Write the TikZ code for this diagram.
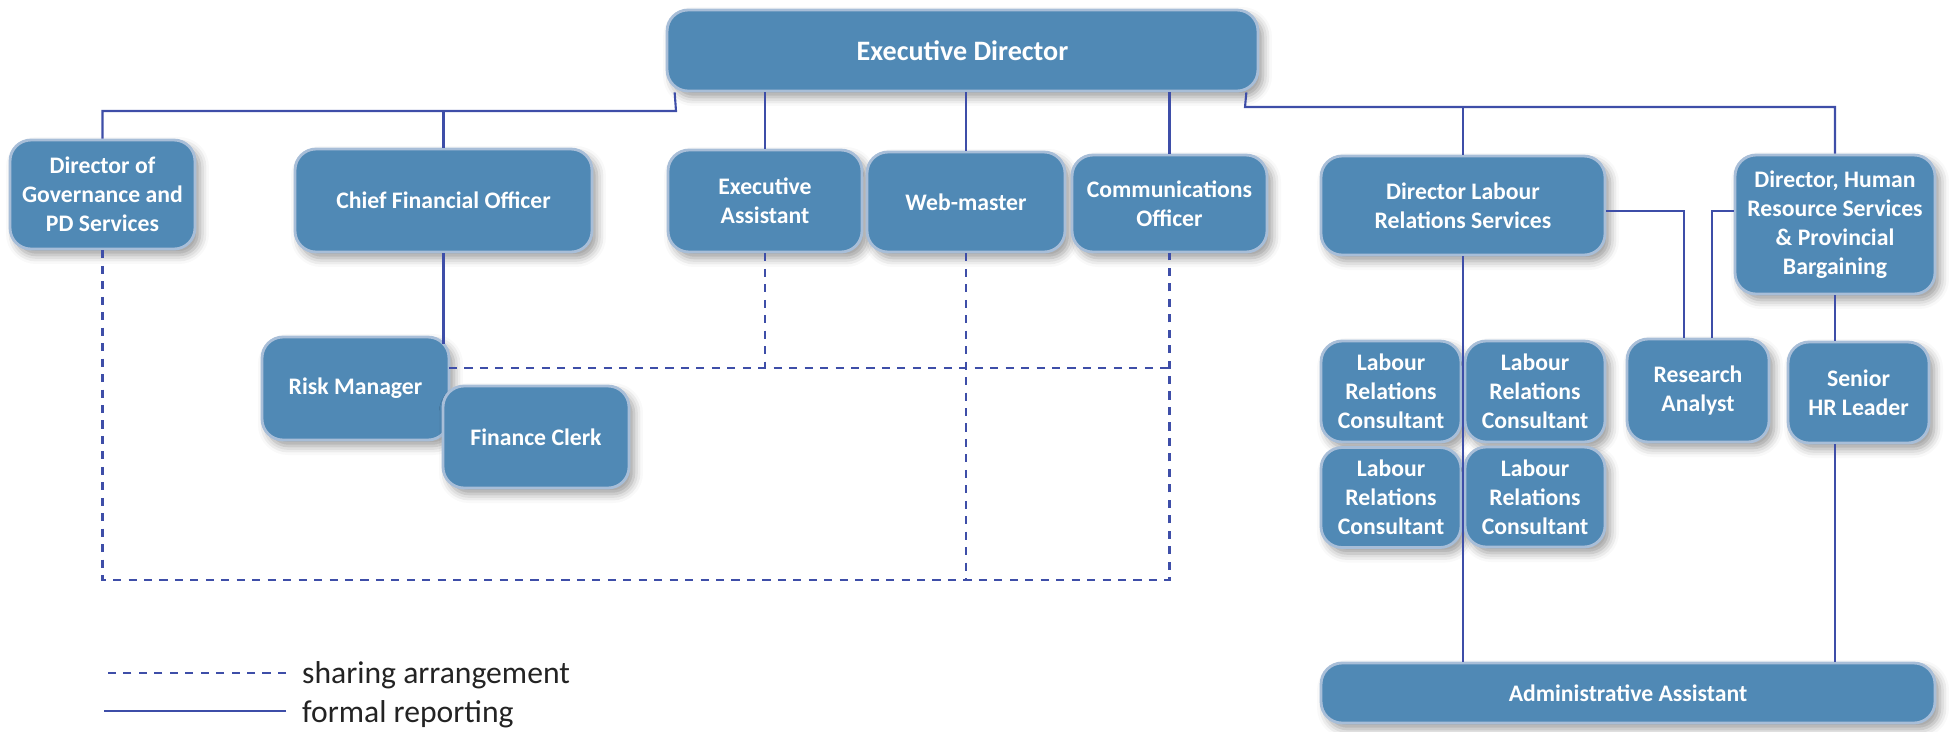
\documentclass[tikz,border=0pt]{standalone}
\usepackage{fontspec}
\setmainfont{Carlito}
\usetikzlibrary{positioning,calc,shadows.blur}
\definecolor{boxblue}{RGB}{80,137,181}
\definecolor{boxedge}{RGB}{168,190,216}
\definecolor{linkblue}{RGB}{62,78,168}
\definecolor{keygrey}{RGB}{35,35,35}

\begin{document}
\begin{tikzpicture}[x=0.02cm, y=-0.02cm,
    box/.style={rectangle, rounded corners=0.42cm, draw=boxedge, line width=1.6pt, fill=boxblue, text=white, align=center, inner sep=2pt, font=\bfseries\fontsize{13.5}{16.5}\selectfont, blur shadow={shadow xshift=0.1cm, shadow yshift=-0.12cm, shadow blur radius=0.18cm, shadow opacity=40}},
    formal/.style={draw=linkblue, line width=1.2pt},
    sharing/.style={formal, dash pattern=on 4.6pt off 4.2pt},
    keytext/.style={text=keygrey, font=\fontsize{18}{21}\selectfont, anchor=west}
]
\useasboundingbox (0,0) rectangle (1949,731);

\node[box, minimum width=11.82cm, minimum height=1.62cm, font=\bfseries\fontsize{16}{18}\selectfont] (ed) at (962.5,50.5) {Executive Director};
\node[box, minimum width=3.7cm, minimum height=2.18cm] (gov) at (102.5,194.5) {Director of\\Governance and\\PD Services};
\node[box, minimum width=5.94cm, minimum height=2.06cm] (cfo) at (443.5,200.5) {Chief Financial Officer};
\node[box, minimum width=3.88cm, minimum height=2.04cm] (ea) at (765,201) {Executive\\Assistant};
\node[box, minimum width=3.96cm, minimum height=2cm] (web) at (966,202) {Web-master};
\node[box, minimum width=3.9cm, minimum height=1.94cm] (comm) at (1169.5,203.5) {Communications\\Officer};
\node[box, minimum width=5.68cm, minimum height=1.98cm] (dlrs) at (1463,205.5) {Director Labour\\Relations Services};
\node[box, minimum width=4cm, minimum height=2.78cm] (hrd) at (1835,224.5) {Director, Human\\Resource Services\\\& Provincial\\Bargaining};
\node[box, minimum width=3.74cm, minimum height=2.06cm] (rm) at (355.5,388.5) {Risk Manager};
\node[box, minimum width=3.72cm, minimum height=2.04cm] (fc) at (536,437) {Finance Clerk};
\node[box, minimum width=2.8cm, minimum height=2.02cm] (lrc1) at (1391,391.5) {Labour\\Relations\\Consultant};
\node[box, minimum width=2.8cm, minimum height=2.02cm] (lrc2) at (1535,391.5) {Labour\\Relations\\Consultant};
\node[box, minimum width=2.8cm, minimum height=2cm] (lrc3) at (1391,497.5) {Labour\\Relations\\Consultant};
\node[box, minimum width=2.8cm, minimum height=2cm] (lrc4) at (1535,497) {Labour\\Relations\\Consultant};
\node[box, minimum width=2.84cm, minimum height=2.06cm] (ra) at (1698,390.5) {Research\\Analyst};
\node[box, minimum width=2.82cm, minimum height=2.02cm] (shr) at (1858.5,392.5) {Senior\\HR Leader};
\node[box, minimum width=12.28cm, minimum height=1.2cm] (aa) at (1628,693) {Administrative Assistant};

\coordinate (busL) at (676,111);
\coordinate (busR) at (1245,107);
\coordinate (shareM) at (449,368);
\coordinate (shareB) at (104,580);

\draw[formal] ($(ed.south west)+(9,0)$) -- (busL) -| (gov.north);
\draw[formal] (cfo.north) -- (cfo.north |- busL);
\draw[formal] (ea.north) -- (ea.north |- ed.south);
\draw[formal] (web.north) -- (web.north |- ed.south);
\draw[formal] (comm.north) -- (comm.north |- ed.south);
\draw[formal] ($(ed.south east)+(-13,0)$) -- (busR) -| (hrd.north);
\draw[formal] (dlrs.north) -- (dlrs.north |- busR);
\draw[formal] ($(dlrs.east)+(0,5.5)$) -| ($(ra.north)+(-14,0)$);
\draw[formal] ($(hrd.west)+(0,-13.5)$) -| ($(ra.north)+(14,0)$);
\draw[formal] (hrd.south) -- (hrd.south |- shr.north);
\draw[formal] (dlrs.south) -- (dlrs.south |- aa.north);
\draw[formal] (hrd.south |- shr.south) -- (hrd.south |- aa.north);
\draw[formal] (cfo.south) -- ($(cfo.south |- rm.north)+(0,8)$);

\draw[sharing] (gov.south) -- (gov.south |- shareB) -- (comm.south |- shareB) -- (comm.south);
\draw[sharing] (web.south) -- (web.south |- shareB);
\draw[sharing] (shareM) -- (shareM -| comm.south);
\draw[sharing] (ea.south) -- (ea.south |- shareM);

\node[keytext] (shareKey) at (296,675) {sharing arrangement};
\node[keytext] (formalKey) at (296,714) {formal reporting};
\draw[sharing] ($(shareKey.west)+(-10,-2)$) -- ++(-182,0);
\draw[formal] ($(formalKey.west)+(-10,-3)$) -- ++(-182,0);
\end{tikzpicture}
\end{document}
